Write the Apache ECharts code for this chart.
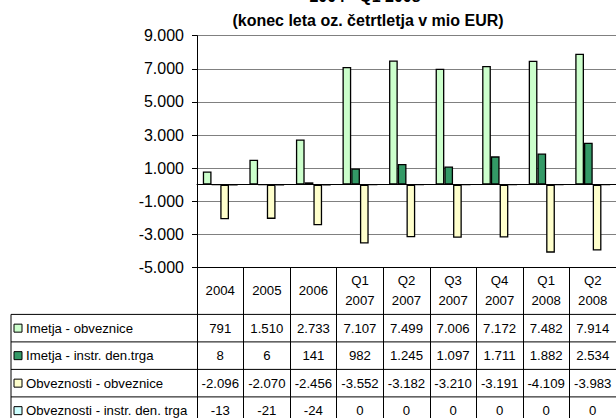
<!DOCTYPE html>
<html><head><meta charset="utf-8">
<script src="https://cdn.jsdelivr.net/npm/echarts@6/dist/echarts.min.js"></script>
<style>html,body{margin:0;padding:0;background:#fff}#c{width:616px;height:418px}</style>
</head><body><div id="c"></div>
<script>
const titleLines = ['2004 - Q1 2008', '(konec leta oz. četrtletja v mio EUR)'];
const categories = ['2004','2005','2006','Q1\n2007','Q2\n2007','Q3\n2007','Q4\n2007','Q1\n2008','Q2\n2008'];
const seriesNames = ['Imetja - obveznice','Imetja - instr. den.trga','Obveznosti - obveznice','Obveznosti - instr. den. trga'];
const imetjaObveznice = [791,1510,2733,7107,7499,7006,7172,7482,7914];
const imetjaInstr = [8,6,141,982,1245,1097,1711,1882,2534];
const obveznostiObveznice = [-2096,-2070,-2456,-3552,-3182,-3210,-3191,-4109,-3983];
const obveznostiInstr = [-13,-21,-24,0,0,0,0,0,0];
const yMin = -5000, yMax = 9000, yStep = 2000;
const colors = ['#CCFFCC','#339966','#FFFFCC','#CCFFFF'];

const seriesData = [imetjaObveznice, imetjaInstr, obveznostiObveznice, obveznostiInstr];
const FONT = "'Liberation Sans', Arial, sans-serif";
const TF = 13.2;
const fmt = v => (v < 0 ? '-' : '') + Math.abs(v).toString().replace(/\B(?=(\d{3})+(?!\d))/g, '.');

const chart = echarts.init(document.getElementById('c'), null, {renderer: 'svg'});
chart.setOption({
  animation: false,
  grid: {left: 197, right: -4, top: 35.7, bottom: 150.6},
  xAxis: [
    {type: 'category', data: categories,
     axisLine: {onZero: true, lineStyle: {color: '#000', width: 1}},
     axisTick: {show: false}, axisLabel: {show: false}, splitLine: {show: false}},
    {type: 'category', data: categories, position: 'bottom',
     axisLine: {onZero: false, lineStyle: {color: '#000', width: 1}},
     axisTick: {show: true, length: 160, interval: 0, lineStyle: {color: '#000', width: 1}},
     axisLabel: {interval: 0, margin: 23, verticalAlign: 'middle', lineHeight: 20,
                 fontSize: TF, color: '#000', fontFamily: FONT}}
  ],
  yAxis: {type: 'value', min: yMin, max: yMax, interval: yStep,
    axisLine: {show: true, lineStyle: {color: '#000', width: 1}},
    axisTick: {show: true, length: 5, lineStyle: {color: '#000'}},
    splitLine: {show: true, lineStyle: {color: '#808080', width: 1}},
    axisLabel: {formatter: fmt, fontSize: 16, margin: 13, color: '#000', fontFamily: FONT}},
  series: seriesNames.map((n, i) => ({
    name: n, type: 'bar', xAxisIndex: 0, data: seriesData[i],
    barGap: '0%', barCategoryGap: '25%',
    itemStyle: {color: colors[i], borderColor: '#000', borderWidth: 1.3}
  }))
});

const xs = categories.map((c, i) => chart.convertToPixel({xAxisIndex: 0}, i));
const colW = xs[1] - xs[0];
const yBottom = chart.convertToPixel({yAxisIndex: 0}, yMin);
const headerH = 47, rowH = 27.5, tableLeft = 11;
const tableRight = xs[xs.length - 1] + colW / 2;
const g = [];
const rowTop = r => yBottom + headerH + r * rowH;
for (let r = 0; r <= 4; r++) {
  g.push({type: 'line', shape: {x1: tableLeft, y1: rowTop(r), x2: tableRight, y2: rowTop(r)},
          style: {stroke: '#000', lineWidth: 1}});
}
g.push({type: 'line', shape: {x1: tableLeft, y1: rowTop(0), x2: tableLeft, y2: rowTop(4)},
        style: {stroke: '#000', lineWidth: 1}});
seriesNames.forEach((n, r) => {
  const cy = rowTop(r) + rowH / 2;
  g.push({type: 'rect', shape: {x: 14, y: cy - 4, width: 8, height: 8},
          style: {fill: colors[r], stroke: '#000', lineWidth: 1}});
  g.push({type: 'text', x: 26, y: cy, style: {text: n, fontSize: TF, fontFamily: FONT,
          fill: '#000', align: 'left', verticalAlign: 'middle'}});
  seriesData[r].forEach((v, i) => {
    g.push({type: 'text', x: xs[i], y: cy, style: {text: fmt(v), fontSize: TF, fontFamily: FONT,
            fill: '#000', align: 'center', verticalAlign: 'middle'}});
  });
});
g.push({type: 'text', x: 365, y: -3.5, style: {text: titleLines[0], fontSize: 16, fontWeight: 'bold',
        fontFamily: FONT, fill: '#000', align: 'center', verticalAlign: 'middle'}});
g.push({type: 'text', x: 368, y: 20.5, style: {text: titleLines[1], fontSize: 16, fontWeight: 'bold',
        fontFamily: FONT, fill: '#000', align: 'center', verticalAlign: 'middle'}});
chart.setOption({graphic: g});
</script></body></html>
